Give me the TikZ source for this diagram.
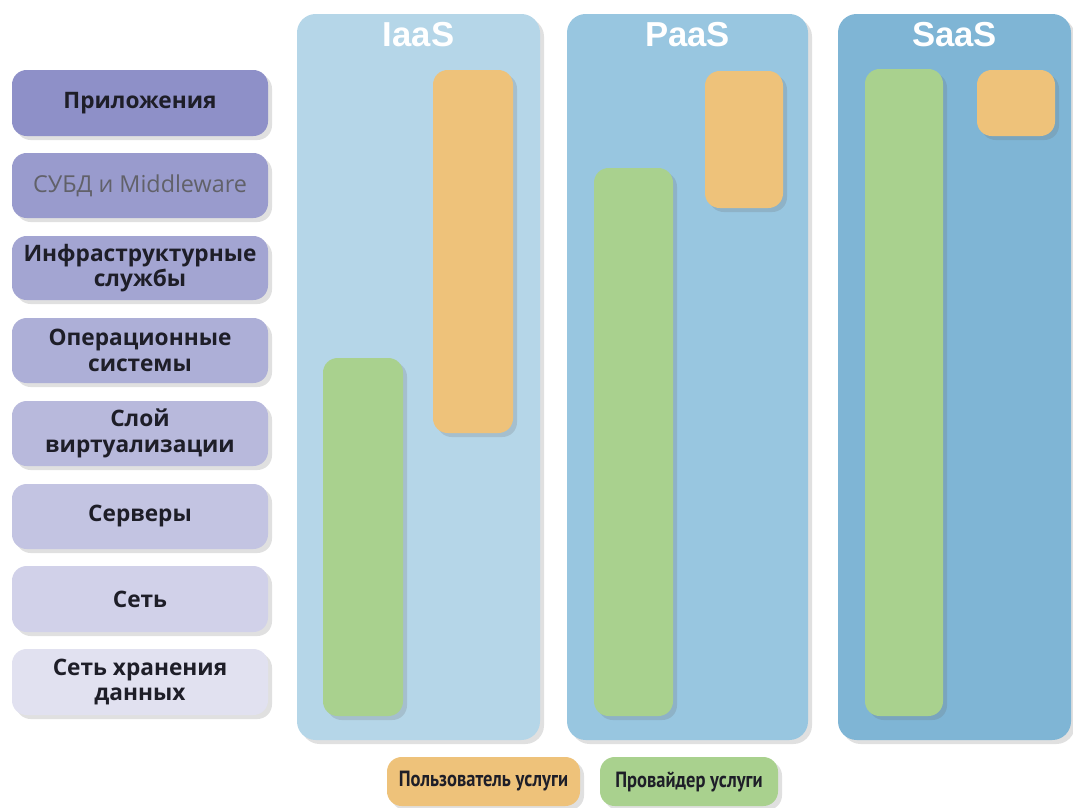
\documentclass[tikz,border=0pt]{standalone}
\usepackage{fontspec}
\setmainfont{Open Sans}
\newfontfamily\hdrfont{Liberation Sans}
\newfontfamily\legfont{PT Sans}
\usetikzlibrary{fit,shadows}
\definecolor{pI}{HTML}{B5D6E8}
\definecolor{pP}{HTML}{98C6E0}
\definecolor{pS}{HTML}{7FB5D5}
\definecolor{barO}{HTML}{EEC27A}
\definecolor{barG}{HTML}{A9D18E}
\definecolor{lA}{HTML}{8E90C8}
\definecolor{lB}{HTML}{999BCD}
\definecolor{lC}{HTML}{A3A5D2}
\definecolor{lD}{HTML}{ADAFD7}
\definecolor{lE}{HTML}{B8B9DC}
\definecolor{lF}{HTML}{C3C4E2}
\definecolor{lG}{HTML}{D1D1E9}
\definecolor{lH}{HTML}{E1E1F0}
\definecolor{txt}{HTML}{1E1E28}
\tikzset{
  shd/.style={drop shadow={shadow xshift=3pt,shadow yshift=-3pt,opacity=0.2,fill=black!60}},
  panel/.style={inner sep=0pt, rounded corners=14pt, shd},
  bar/.style={inner sep=0pt, rounded corners=11pt, shd},
  lbl/.style={inner sep=0pt, rounded corners=11pt, shd},
  ltxt/.style={align=center, font=\fontsize{17pt}{19pt}\selectfont\bfseries, text=txt},
  hdr/.style={font=\hdrfont\fontsize{26pt}{28pt}\selectfont\bfseries, text=white},
  leg/.style={inner sep=0pt, rounded corners=11pt, shd},
  legtxt/.style={font=\legfont\fontsize{16.5pt}{18pt}\selectfont\bfseries, text=txt}
}
\begin{document}
\begin{tikzpicture}[x=0.75pt,y=-0.75pt]
\useasboundingbox (0,0) rectangle (1073,807);
\fill[white] (0,0) rectangle (1073,807);
% panels
\node[panel, fill=pI, fit={(297,14) (540,740)}] (iaas) {};
\node[panel, fill=pP, fit={(567,14) (808,740)}] (paas) {};
\node[panel, fill=pS, fit={(838,14) (1071,740)}] (saas) {};
\node[hdr] (hI) at (418.5,35) {IaaS};
\node[hdr] (hP) at (687.5,35) {PaaS};
\node[hdr] (hS) at (954.5,35) {SaaS};
% bars
\node[bar, fill=barG, fit={(323,358) (403,716)}] (gI) {};
\node[bar, fill=barO, fit={(433,70) (513,433)}] (oI) {};
\node[bar, fill=barG, fit={(594,168) (673,716)}] (gP) {};
\node[bar, fill=barO, fit={(705,71) (783,208)}] (oP) {};
\node[bar, fill=barG, fit={(865,69) (943,716)}] (gS) {};
\node[bar, fill=barO, fit={(977,70) (1055,136)}] (oS) {};
% layer labels
\node[lbl, fill=lA, fit={(12,70) (268,136)}] (l1) {};
\node (t1) [ltxt] at (l1.center) {Приложения};
\node[lbl, fill=lB, fit={(12,153) (268,218)}] (l2) {};
\node (t2) [ltxt, font=\fontsize{17.5pt}{19pt}\selectfont, text=txt!70] at (l2.center) {СУБД и Middleware};
\node[lbl, fill=lC, fit={(12,236) (268,300)}] (l3) {};
\node (t3) [ltxt] at (l3.center) {Инфраструктурные\\службы};
\node[lbl, fill=lD, fit={(12,318) (268,383)}] (l4) {};
\node (t4) [ltxt] at (l4.center) {Операционные\\системы};
\node[lbl, fill=lE, fit={(12,401) (268,466)}] (l5) {};
\node (t5) [ltxt] at (l5.center) {Слой\\виртуализации};
\node[lbl, fill=lF, fit={(12,484) (268,549)}] (l6) {};
\node (t6) [ltxt] at (l6.center) {Серверы};
\node[lbl, fill=lG, fit={(12,566) (268,632)}] (l7) {};
\node (t7) [ltxt] at (l7.center) {Сеть};
\node[lbl, fill=lH, fit={(12,649) (268,715)}] (l8) {};
\node (t8) [ltxt] at (l8.center) {Сеть хранения\\данных};
% legend
\node[leg, fill=barO, fit={(387,757) (580,806)}] (legO) {};
\node (tO) [legtxt] at (legO.center) {\scalebox{0.84}[1]{Пользователь услуги}};
\node[leg, fill=barG, fit={(600,757) (778,806)}] (legG) {};
\node (tG) [legtxt] at (legG.center) {\scalebox{0.84}[1]{Провайдер услуги}};
\end{tikzpicture}
\end{document}
